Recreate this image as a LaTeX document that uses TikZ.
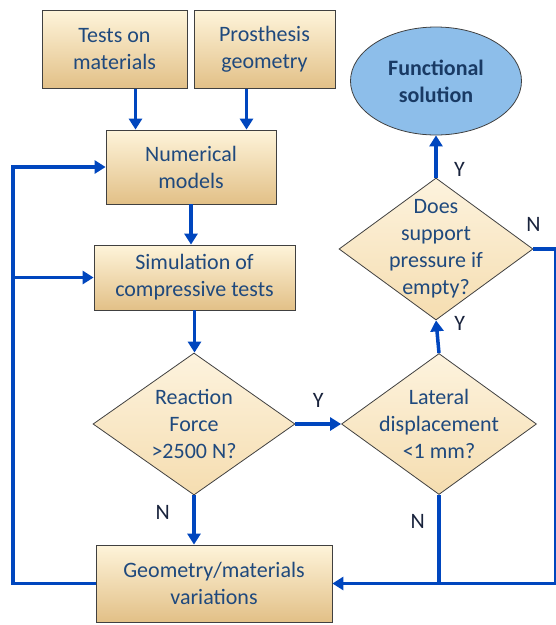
\documentclass[tikz,border=0pt]{standalone}
\usepackage{fontspec}
\setmainfont{Carlito}
\usetikzlibrary{shapes.geometric,arrows.meta}

\definecolor{flowblue}{RGB}{0,70,190}
\definecolor{txtblue}{RGB}{31,73,125}
\definecolor{boxtop}{RGB}{254,244,218}
\definecolor{boxbot}{RGB}{226,192,135}
\definecolor{dectop}{RGB}{253,243,222}
\definecolor{decbot}{RGB}{245,221,176}
\definecolor{ellfill}{RGB}{141,190,234}
\definecolor{edgegray}{RGB}{64,64,64}
\definecolor{lblcol}{RGB}{25,35,60}

\begin{document}
\begin{tikzpicture}[x=1pt, y=-1pt,
		font=\fontsize{22}{27}\selectfont,
		box/.style={draw=edgegray, line width=0.8pt, rectangle, top color=boxtop, bottom color=boxbot, text=txtblue, align=center, inner sep=0pt},
		decision/.style={draw=edgegray, line width=0.8pt, diamond, top color=dectop, bottom color=decbot, inner sep=0pt},
		dtext/.style={text=txtblue, align=center},
		flow/.style={draw=flowblue, line width=3.5pt, line join=miter, -{Triangle[length=11pt,width=13pt]}},
		bus/.style={draw=flowblue, line width=3.5pt, line join=miter},
		lbl/.style={text=lblcol, font=\fontsize{22}{26}\selectfont}]
	\useasboundingbox (0,0) rectangle (556,625);

	% Inputs
	\node[box, minimum width=145pt, minimum height=78pt] (tests) at (114.5,49.5) {Tests on\\materials};
	\node[box, minimum width=141pt, minimum height=78pt] (geom) at (264.5,49.5) {Prosthesis\\geometry};

	% Model and simulation
	\node[box, minimum width=170pt, minimum height=74pt] (nummod) at (191,167) {Numerical\\models};
	\node[box, minimum width=201pt, minimum height=65pt] (sim) at (194.5,277.5) {Simulation of\\compressive tests};

	% Checks
	\node[decision, minimum width=202pt, minimum height=142pt, label={[dtext]center:Reaction\\Force\\>2500 N?}] (reaction) at (194,424) {};
	\node[decision, minimum width=195pt, minimum height=141pt, label={[dtext]center:Lateral\\displacement\\<1 mm?}] (lateral) at (439,424) {};
	\node[decision, minimum width=194pt, minimum height=142pt, label={[dtext]center:Does\\support\\pressure if\\empty?}] (support) at (436,249) {};

	% Result
	\node[draw=edgegray, line width=0.8pt, ellipse, fill=ellfill, minimum width=171pt, minimum height=108pt, inner sep=0pt, text=txtblue!80!black, font=\fontsize{22}{27}\selectfont\bfseries, align=center] (functional) at (436,81) {Functional\\solution};

	% Changes
	\node[box, minimum width=236pt, minimum height=77pt] (variations) at (214,583.5) {Geometry/materials\\variations};
	\coordinate (bus) at (13,583.5);

	% Connections
	\draw[flow] ([xshift=21pt]tests.south) -- ([xshift=21pt]tests.south |- nummod.north);
	\draw[flow] ([xshift=-18pt]geom.south) -- ([xshift=-18pt]geom.south |- nummod.north);
	\draw[flow] (nummod.south) -- (nummod.south |- sim.north);
	\draw[flow] (sim.south) -- (sim.south |- reaction.north);
	\draw[flow] (reaction.south) -- node[lbl, pos=0.34, left=19pt] {N} (reaction.south |- variations.north);
	\draw[flow] (reaction.east) -- node[lbl, above=11pt] {Y} (lateral.west);
	\draw[flow] (lateral.north) -- node[lbl, pos=0.9, right=13pt] {Y} (support.south);
	\draw[flow] (support.north) -- node[lbl, pos=0.2, right=13pt] {Y} (functional.south);
	\draw[flow] (lateral.south) -- node[lbl, pos=0.3, left=9pt] {N} (lateral.south |- variations.east) -- (variations.east);
	\draw[bus] (support.east) -- node[lbl, at start, above=12pt] {N} ++(22,0) |- (lateral.south |- variations.east);
	\draw[flow] (variations.west) -- (bus) |- (nummod.west);
	\draw[flow] (bus |- sim.west) -- (sim.west);
\end{tikzpicture}
\end{document}
